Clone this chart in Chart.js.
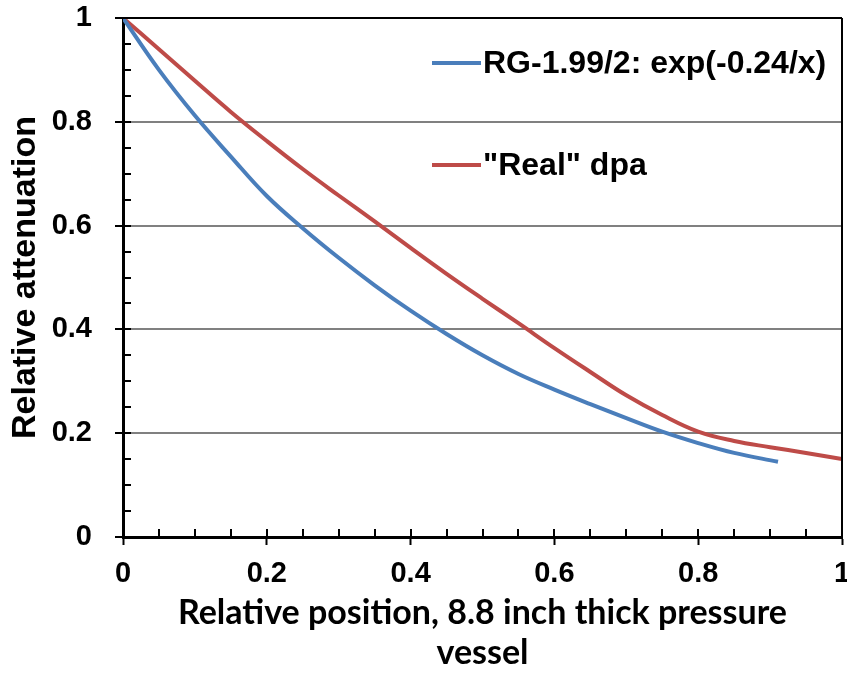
<!DOCTYPE html>
<html>
<head>
    <title>Relative attenuation</title>
    <script src="https://cdn.jsdelivr.net/npm/chart.js"></script>
    <style>
        body { margin: 0; background: #fff; }
        #wrap { width: 847px; height: 675px; }
    </style>
</head>
<body>
    <div id="wrap">
        <canvas id="myChart" width="847" height="675"></canvas>
    </div>

    <script>
      // values
      const blueLabel = "RG-1.99/2: exp(-0.24/x)";
      const blueX = [0, 0.05, 0.1, 0.15, 0.2, 0.25, 0.3, 0.35, 0.4, 0.45, 0.5, 0.55, 0.6, 0.65, 0.7, 0.75, 0.8, 0.85, 0.911];
      const blueY = [1, 0.9, 0.812, 0.733, 0.657, 0.595, 0.538, 0.485, 0.436, 0.391, 0.35, 0.314, 0.284, 0.256, 0.229, 0.203, 0.181, 0.162, 0.145];

      const redLabel = '"Real" dpa';
      const redX = [0, 0.05, 0.1, 0.15, 0.2, 0.25, 0.3, 0.35, 0.4, 0.45, 0.5, 0.55, 0.6, 0.65, 0.7, 0.75, 0.8, 0.85, 0.9, 0.95, 1];
      const redY = [1, 0.94, 0.879, 0.819, 0.763, 0.709, 0.658, 0.608, 0.557, 0.507, 0.459, 0.412, 0.364, 0.318, 0.273, 0.235, 0.203, 0.185, 0.173, 0.162, 0.15];

      const yTicks = [0, 0.2, 0.4, 0.6, 0.8, 1];
      const xTicks = [0, 0.2, 0.4, 0.6, 0.8, 1];
      const minorStep = 0.05;

      const xTitle = ["Relative position, 8.8 inch thick pressure", "vessel"];
      const yTitle = "Relative attenuation";

      function pts(xs, ys) {
        return xs.map((x, i) => ({ x: x, y: ys[i] }));
      }

      // inner tick marks, minor ticks, right frame, legend
      const extras = {
        id: "extras",
        afterDraw(chart) {
          const c = chart.ctx;
          const a = chart.chartArea;
          const xs = chart.scales.x, ys = chart.scales.y;
          c.save();
          c.strokeStyle = "#000";
          c.lineWidth = 2;
          c.beginPath();
          for (let i = 0; i <= 20; i++) {
            const py = Math.round(ys.getPixelForValue(i * minorStep));
            c.moveTo(a.left, py);
            c.lineTo(a.left + 8, py);
            const px = Math.round(xs.getPixelForValue(i * minorStep));
            c.moveTo(px, a.bottom);
            c.lineTo(px, a.bottom - 8);
          }
          c.stroke();
          c.beginPath();
          c.moveTo(a.right, a.top);
          c.lineTo(a.right, a.bottom);
          c.stroke();

          // legend
          const rows = [63, 165];
          c.font = "bold 32px 'Liberation Sans', Arial";
          c.textBaseline = "middle";
          c.fillStyle = "#000";
          chart.data.datasets.forEach((ds, i) => {
            c.strokeStyle = ds.borderColor;
            c.lineWidth = 4;
            c.beginPath();
            c.moveTo(432, rows[i]);
            c.lineTo(481, rows[i]);
            c.stroke();
            c.fillText(ds.label, 483, rows[i] + 1);
          });
          c.restore();
        }
      };

      const ctx = document.getElementById("myChart");
      const mychart = new Chart(ctx, {
        type: "line",
        data: {
          datasets: [
            {
              label: blueLabel,
              data: pts(blueX, blueY),
              borderColor: "#4a7ebb",
              borderWidth: 4,
              pointRadius: 0,
              tension: 0.4,
            },
            {
              label: redLabel,
              data: pts(redX, redY),
              borderColor: "#be4b48",
              borderWidth: 4,
              pointRadius: 0,
              tension: 0.4,
            },
          ],
        },
        options: {
          responsive: false,
          animation: false,
          events: [],
          layout: { padding: { top: 18, right: 5, left: 0, bottom: 0 } },
          plugins: {
            legend: { display: false },
            tooltip: { enabled: false },
          },
          scales: {
            x: {
              type: "linear",
              min: 0,
              max: 1,
              afterBuildTicks: (s) => { s.ticks = xTicks.map((v) => ({ value: v })); },
              afterFit: (s) => { s.height = 138; s.paddingLeft = 0; s.paddingRight = 0; },
              border: { color: "#000", width: 3 },
              grid: { drawOnChartArea: false, tickLength: 8, tickColor: "#000", tickWidth: 2 },
              ticks: {
                color: "#000",
                padding: 12,
                maxRotation: 0,
                font: { family: "'Liberation Sans', Arial", size: 29, weight: "bold" },
                callback: (v) => String(v),
              },
              title: {
                display: true,
                text: xTitle,
                color: "#000",
                padding: { top: 0, bottom: 2 },
                font: { family: "Lato, 'Open Sans'", size: 34, weight: "bold", lineHeight: 1.18 },
              },
            },
            y: {
              min: 0,
              max: 1,
              afterBuildTicks: (s) => { s.ticks = yTicks.map((v) => ({ value: v })); },
              afterFit: (s) => { s.width = 123; s.paddingTop = 0; s.paddingBottom = 0; },
              border: { color: "#000", width: 3 },
              grid: {
                color: (c) => (c.tick && c.tick.value === 1 ? "#000" : c.tick && c.tick.value === 0 ? "rgba(0,0,0,0)" : "#808080"),
                lineWidth: 2,
                tickLength: 8,
                tickColor: "#000",
                tickWidth: 2,
              },
              ticks: {
                color: "#000",
                padding: 23,
                font: { family: "'Liberation Sans', Arial", size: 29, weight: "bold" },
                callback: (v) => String(v),
              },
              title: {
                display: true,
                text: yTitle,
                color: "#000",
                padding: { top: 5, bottom: 0 },
                font: { family: "'Liberation Sans', Arial", size: 34, weight: "bold" },
              },
            },
          },
        },
        plugins: [extras],
      });
    </script>
</body>
</html>
